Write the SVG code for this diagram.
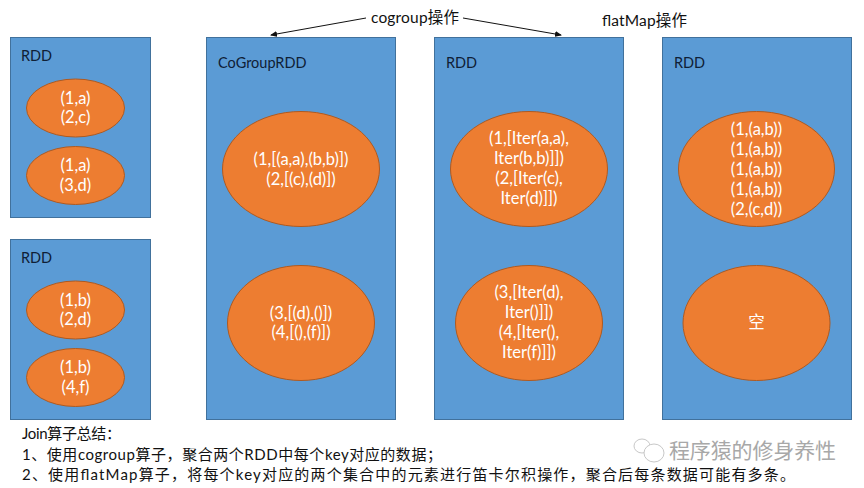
<svg xmlns="http://www.w3.org/2000/svg" width="864" height="488" viewBox="0 0 864 488">
<style>
text{font-family:Lato,"Noto Sans CJK SC",sans-serif;}
.box{fill:#5b9bd5;stroke:#41719c;stroke-width:1}
.el{fill:#ed7d31;stroke:#ae5a21;stroke-width:1}
.t{font-size:16.500px;fill:#fff;text-anchor:middle}
.h{font-size:14.500px;fill:#0f2035}
.k{font-size:15.500px;fill:#111}
.n{font-size:15px;fill:#111}
.c{fill:none;stroke:#111;stroke-width:1}
</style>
<defs><marker id="a" markerWidth="7" markerHeight="6" refX="6" refY="3" orient="auto" markerUnits="userSpaceOnUse"><path d="M0 0L7 3L0 6Z" fill="#111"/></marker></defs>
<rect width="864" height="488" fill="#fff"/>
<g id="connectors">
<path class="c" d="M366 18L271 35" marker-end="url(#a)"/>
<path class="c" d="M463 18L561 35" marker-end="url(#a)"/>
</g>
<g id="label-cogroup"><text class="k" x="371" y="23" textLength="88">cogroup操作</text></g>
<g id="label-flatmap"><text class="k" x="602" y="26" textLength="85">flatMap操作</text></g>
<g id="rdd1"><rect class="box" x="10.500" y="37.500" width="140" height="180"/><text class="h" x="21" y="61">RDD</text></g>
<g id="rdd1-a"><ellipse class="el" cx="75.500" cy="108" rx="49" ry="29"/><text class="t" x="75.500" y="104">(1,a)</text><text class="t" x="75.500" y="123">(2,c)</text></g>
<g id="rdd1-b"><ellipse class="el" cx="75.500" cy="175.500" rx="49" ry="29"/><text class="t" x="75.500" y="171">(1,a)</text><text class="t" x="75.500" y="191">(3,d)</text></g>
<g id="rdd2"><rect class="box" x="10.500" y="239.500" width="140" height="180"/><text class="h" x="21" y="263">RDD</text></g>
<g id="rdd2-a"><ellipse class="el" cx="75.500" cy="310" rx="49" ry="29"/><text class="t" x="75.500" y="306">(1,b)</text><text class="t" x="75.500" y="325">(2,d)</text></g>
<g id="rdd2-b"><ellipse class="el" cx="75.500" cy="377.500" rx="49" ry="29"/><text class="t" x="75.500" y="373">(1,b)</text><text class="t" x="75.500" y="393">(4,f)</text></g>
<g id="cogrouprdd"><rect class="box" x="206.500" y="37.500" width="189" height="382"/><text class="h" x="218" y="68">CoGroupRDD</text></g>
<g id="cg-a"><ellipse class="el" cx="301" cy="169" rx="78.500" ry="57.500"/><text class="t" x="301" y="165">(1,[(a,a),(b,b)])</text><text class="t" x="301" y="185">(2,[(c),(d)])</text></g>
<g id="cg-b"><ellipse class="el" cx="301" cy="323" rx="73.500" ry="57.500"/><text class="t" x="301" y="319">(3,[(d),()])</text><text class="t" x="301" y="338">(4,[(),(f)])</text></g>
<g id="rdd3"><rect class="box" x="434.500" y="37.500" width="189" height="382"/><text class="h" x="446" y="68">RDD</text></g>
<g id="r3-a"><ellipse class="el" cx="529" cy="169" rx="78.500" ry="57.500"/><text class="t" x="529" y="144">(1,[Iter(a,a),</text><text class="t" x="529" y="164">Iter(b,b)]])</text><text class="t" x="529" y="184">(2,[Iter(c),</text><text class="t" x="529" y="204">Iter(d)]])</text></g>
<g id="r3-b"><ellipse class="el" cx="529" cy="323" rx="73.500" ry="57.500"/><text class="t" x="529" y="298">(3,[Iter(d),</text><text class="t" x="529" y="318">Iter()]])</text><text class="t" x="529" y="338">(4,[Iter(),</text><text class="t" x="529" y="358">Iter(f)]])</text></g>
<g id="rdd4"><rect class="box" x="662.500" y="37.500" width="189" height="382"/><text class="h" x="674" y="68">RDD</text></g>
<g id="r4-a"><ellipse class="el" cx="756.500" cy="169" rx="78" ry="57.500"/><text class="t" x="756.500" y="135">(1,(a,b))</text><text class="t" x="756.500" y="155">(1,(a,b))</text><text class="t" x="756.500" y="175">(1,(a,b))</text><text class="t" x="756.500" y="195">(1,(a,b))</text><text class="t" x="756.500" y="215">(2,(c,d))</text></g>
<g id="r4-b"><ellipse class="el" cx="756.500" cy="323" rx="73.500" ry="57.500"/><text class="t" x="756.500" y="328">空</text></g>
<g id="summary">
<text class="n" x="22" y="439" textLength="99">Join算子总结：</text>
<text class="n" x="22" y="460" textLength="420">1、使用cogroup算子，聚合两个RDD中每个key对应的数据；</text>
<text class="n" x="22" y="480" textLength="773">2、使用flatMap算子，将每个key对应的两个集合中的元素进行笛卡尔积操作，聚合后每条数据可能有多条。</text>
</g>
<g id="watermark">
<ellipse cx="642" cy="446" rx="8" ry="7" fill="none" stroke="#c8c8c8"/>
<ellipse cx="654" cy="453" rx="10" ry="9" fill="#fff" stroke="#c8c8c8"/>
<text x="669" y="458" font-size="21" fill="#a8a8a8" textLength="167">程序猿的修身养性</text>
</g>
</svg>
